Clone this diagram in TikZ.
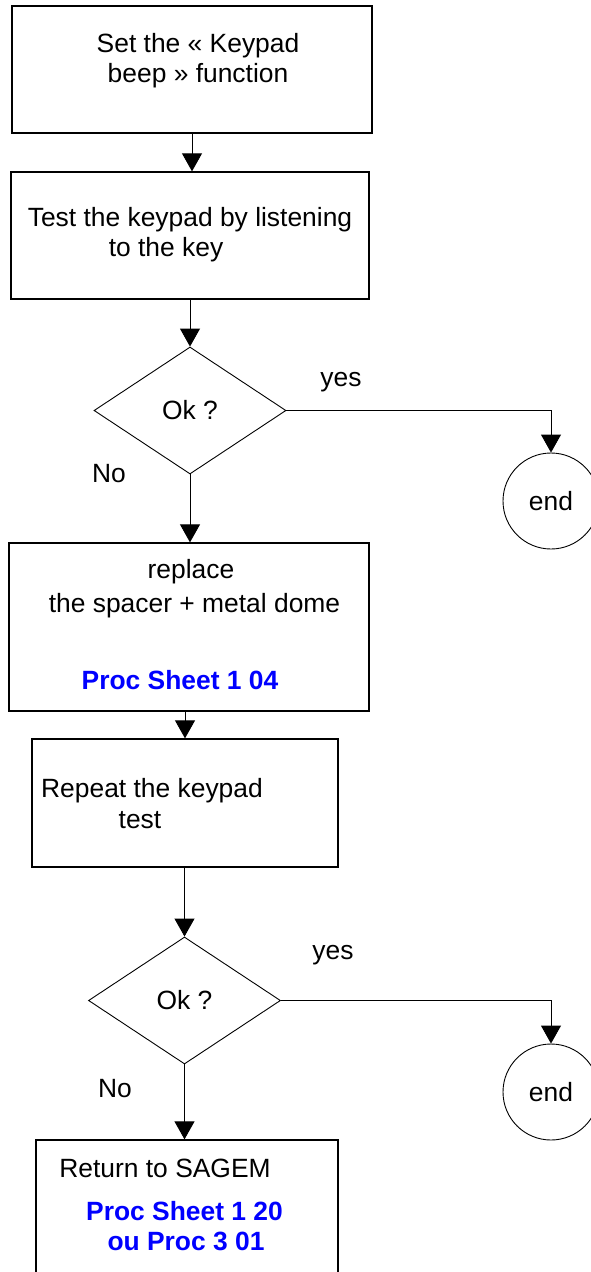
\documentclass[tikz,border=0pt]{standalone}
\usepackage{fontspec}
\setmainfont{Liberation Sans}
\usetikzlibrary{shapes.geometric,arrows.meta}
\definecolor{procblue}{RGB}{0,0,255}

\begin{document}
\begin{tikzpicture}[x=1pt,y=-1pt,
  every node/.style={font=\fontsize{26.4}{30}\selectfont},
  box/.style={draw=black, line width=1.3pt, rectangle, inner sep=0pt},
  decision/.style={draw=black, line width=0.9pt, diamond, inner sep=0pt, minimum width=192pt, minimum height=127pt},
  terminal/.style={draw=black, line width=0.9pt, circle, inner sep=0pt, minimum size=96pt},
  txt/.style={anchor=base, inner sep=0pt},
  ref/.style={anchor=base, inner sep=0pt, font=\fontsize{26.4}{30}\selectfont\bfseries, text=procblue},
  flow/.style={draw=black, line width=0.9pt, -{Triangle[length=18pt,width=20pt]}}]

\useasboundingbox (0,0) rectangle (590,1272);


\node[box, minimum width=360pt, minimum height=127pt] (set) at (192,69.5) {};
\node[box, minimum width=358pt, minimum height=127pt] (test) at (190,235.5) {};
\node[decision] (ok1) at (190,410.5) {Ok ?};
\node[terminal] (end1) at (551,501) {end};
\node[box, minimum width=360pt, minimum height=168pt] (replace) at (189,627) {};
\node[box, minimum width=306pt, minimum height=128pt] (repeat) at (185,803) {};
\node[decision] (ok2) at (184.5,1000.5) {Ok ?};
\node[terminal] (end2) at (551,1092) {end};
\node[box, minimum width=302pt, minimum height=150pt] (sagem) at (187,1215) {};


\node[txt] (setA) at (198,52) {Set the « Keypad};
\node[txt] (setB) at (198,82) {beep » function};
\node[txt] (testA) at (190,226) {Test the keypad by listening};
\node[txt] (testB) at (166,256) {to the key};
\node[txt] (yes1) at (341,386) {yes};
\node[txt] (no1) at (109,482) {No};
\node[txt] (replA) at (191,578) {replace};
\node[txt] (replB) at (194.5,612) {the spacer + metal dome};
\node[ref] (replRef) at (180,689) {Proc Sheet 1 04};
\node[txt] (repA) at (152,797) {Repeat the keypad};
\node[txt] (repB) at (140,828) {test};
\node[txt] (yes2) at (333,959) {yes};
\node[txt] (no2) at (115,1097) {No};
\node[txt] (sagemA) at (165,1177) {Return to SAGEM};
\node[ref] (sagemB) at (184.5,1220) {Proc Sheet 1 20};
\node[ref] (sagemC) at (186,1250) {ou Proc 3 01};


\draw[flow] (set.south) -- (set.south |- test.north);
\draw[flow] (test.south) -- (ok1.north);
\draw[flow] (ok1.south) -- (ok1.south |- replace.north);
\draw[flow] (ok1.east) -| (end1.north);

\draw[flow] (repeat.north |- replace.south) -- (repeat.north);
\draw[flow] (ok2.north |- repeat.south) -- (ok2.north);
\draw[flow] (ok2.south) -- (ok2.south |- sagem.north);
\draw[flow] (ok2.east) -| (end2.north);

\end{tikzpicture}
\end{document}
